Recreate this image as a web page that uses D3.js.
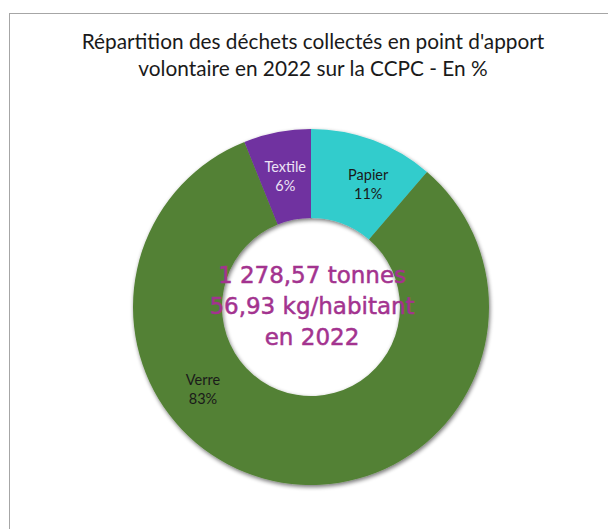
<!DOCTYPE html>
<html>
<head>
<meta charset="utf-8">
<script src="https://cdn.jsdelivr.net/npm/d3@7"></script>
<style>
  html, body { margin: 0; padding: 0; background: #fff; }
  svg { display: block; }
</style>
</head>
<body>
<svg id="chart" width="608" height="529"></svg>
<script>
// ---- Data ----
const categories = ["Papier", "Verre", "Textile"];
const values = [11.3, 82.6, 6.1];
const colors = ["#33CCCC", "#538135", "#7030A0"];
const labelColors = ["#1a1a1a", "#1a1a1a", "#EDE3F5"];
const titleLines = ["Répartition des déchets collectés en point d'apport", "volontaire en 2022 sur la CCPC - En %"];
const centerLines = ["1 278,57 tonnes", "56,93 kg/habitant", "en 2022"];

const svg = d3.select("#chart");
const W = 608, H = 529;

// chart frame
svg.append("rect")
  .attr("x", 9.5).attr("y", 13.5)
  .attr("width", W + 10).attr("height", H + 10)
  .attr("fill", "#fff").attr("stroke", "#A6A6A6").attr("stroke-width", 1);

// title
const title = svg.append("text")
  .attr("text-anchor", "middle")
  .attr("font-family", "Lato, 'Open Sans', sans-serif")
  .attr("font-size", 20.8)
  .attr("fill", "#1a1a1a");
titleLines.forEach((t, i) => {
  title.append("tspan").attr("x", 313).attr("y", 48.5 + i * 27).text(t);
});

// shadow filter
const defs = svg.append("defs");
const f = defs.append("filter").attr("id", "shadow")
  .attr("x", "-10%").attr("y", "-10%").attr("width", "120%").attr("height", "120%");
f.append("feGaussianBlur").attr("in", "SourceAlpha").attr("stdDeviation", 2).attr("result", "blur");
f.append("feOffset").attr("in", "blur").attr("dx", 1).attr("dy", 2).attr("result", "off");
f.append("feComponentTransfer").attr("in", "off").attr("result", "sh")
  .append("feFuncA").attr("type", "linear").attr("slope", 0.55);
const fm = f.append("feMerge");
fm.append("feMergeNode").attr("in", "sh");
fm.append("feMergeNode").attr("in", "SourceGraphic");

const cx = 311, cy = 307, R = 178, r = 89;
const data = categories.map((c, i) => ({ cat: c, value: values[i], color: colors[i], lc: labelColors[i] }));

const pie = d3.pie().value(d => d.value).sort(null);
const arcs = pie(data);
const arc = d3.arc().innerRadius(r).outerRadius(R);

const g = svg.append("g").attr("transform", `translate(${cx},${cy})`);
g.append("g").attr("filter", "url(#shadow)")
  .selectAll("path").data(arcs).join("path")
  .attr("d", arc)
  .attr("fill", d => d.data.color);

// data labels: centroid on a label arc, with manual nudges as in the original
const labelArc = d3.arc().innerRadius(130).outerRadius(130);
const nudge = { "Papier": [12, 4.5], "Textile": [-1, 2.3], "Verre": [0, 0] };
const fmt = v => d3.format(".0f")(v) + "%";
const lab = g.append("g").selectAll("text").data(arcs).join("text")
  .attr("text-anchor", "middle")
  .attr("font-family", "Lato, 'Open Sans', sans-serif")
  .attr("font-size", 14.5)
  .attr("fill", d => d.data.lc)
  .attr("transform", d => {
    let p;
    if (d.data.cat === "Verre") {
      // label moved to the left side of the ring in the original
      const a = 231 * Math.PI / 180;
      const rr = 139;
      p = [rr * Math.sin(a), -rr * Math.cos(a)];
    } else {
      p = labelArc.centroid(d);
      const n = nudge[d.data.cat];
      p = [p[0] + n[0], p[1] + n[1]];
    }
    return `translate(${p[0]},${p[1]})`;
  });
lab.append("tspan").attr("x", 0).attr("y", -9.5).text(d => d.data.cat);
lab.append("tspan").attr("x", 0).attr("y", 9.5).text(d => fmt(d.data.value));

// center text
const ct = g.append("text")
  .attr("text-anchor", "middle")
  .attr("font-family", "'DejaVu Sans', 'Noto Sans', sans-serif")
  .attr("font-size", 23)
  .attr("fill", "#A3338F")
  .attr("stroke", "#A3338F")
  .attr("stroke-width", 0.5);
centerLines.forEach((t, i) => {
  ct.append("tspan").attr("x", 1).attr("y", -24 + i * 31).text(t);
});
</script>
</body>
</html>
